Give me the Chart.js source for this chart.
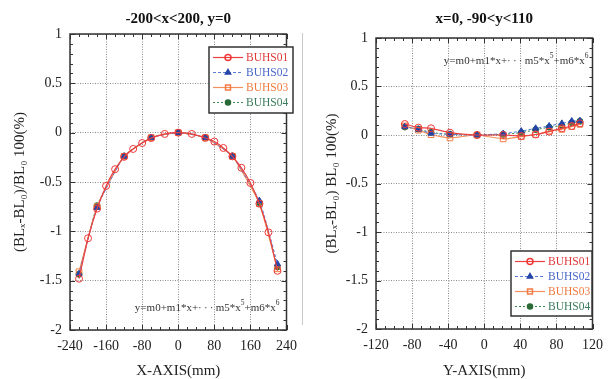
<!DOCTYPE html>
<html>
<head>
<meta charset="utf-8">
<script src="https://cdn.jsdelivr.net/npm/chart.js@4/dist/chart.umd.min.js"></script>
<style>
  body { margin: 0; background: #fff; }
  #wrap { position: relative; width: 611px; height: 379px; }
  #left { position: absolute; left: 0; top: 0; }
  #right { position: absolute; left: 305px; top: 0; }
  #sep { position: absolute; left: 302px; top: 33px; width: 1px; height: 292px; background: #c8c8c8; }
</style>
</head>
<body>
<div id="wrap">
  <canvas id="left" width="305" height="379"></canvas>
  <div id="sep"></div>
  <canvas id="right" width="306" height="379"></canvas>
</div>
<script>
// left chart: -200<x<200, y=0
const leftX01 = [-220, -200, -180, -160, -140, -120, -100, -80, -60, -30, 0, 30, 60, 80, 100, 120, 140, 160, 180, 200, 220];
const left01 = [-1.48, -1.07, -0.77, -0.54, -0.37, -0.245, -0.165, -0.105, -0.055, -0.013, 0, -0.013, -0.054, -0.09, -0.155, -0.24, -0.356, -0.51, -0.72, -1.01, -1.40];
const leftX = [-220, -180, -120, -60, 0, 60, 120, 180, 220];
const left02 = [-1.43, -0.76, -0.24, -0.05, 0, -0.05, -0.24, -0.69, -1.33];
const left03 = [-1.41, -0.75, -0.24, -0.05, 0, -0.05, -0.24, -0.72, -1.38];
const left04 = [-1.435, -0.74, -0.236, -0.05, 0, -0.05, -0.236, -0.71, -1.36];

// right chart: x=0, -90<y<110
const rightX = [-88, -73, -59, -38, -8, 21, 41, 57, 72, 86, 97, 106];
const right01 = [0.113, 0.076, 0.069, 0.024, 0, 0, -0.01, 0.005, 0.035, 0.069, 0.093, 0.12];
const right02 = [0.086, 0.058, 0.017, 0.007, 0, 0.014, 0.04, 0.069, 0.093, 0.12, 0.144, 0.148];
const right03 = [0.093, 0.05, 0.003, -0.03, 0, -0.04, -0.017, 0.005, 0.04, 0.058, 0.086, 0.11];
const right04 = [0.082, 0.062, 0.027, 0.007, 0, 0.007, 0.024, 0.055, 0.08, 0.096, 0.127, 0.141];

const seriesNames = ['BUHS01', 'BUHS02', 'BUHS03', 'BUHS04'];
const leftXTicks = [-240, 240, 80];   // min, max, step
const rightXTicks = [-120, 120, 40];
const yTicks = [-2, 1, 0.5];

const FONT = "'Liberation Serif', 'Times New Roman', serif";
const textColors = ['#e03a3a', '#4a68c8', '#f07a40', '#3a7c5c'];

const styles = [
  { borderColor: '#ec4040', borderWidth: 1.2, pointStyle: 'circle', pointRadius: 3.5, pointBorderWidth: 1,
    pointBorderColor: '#f03838', pointBackgroundColor: 'rgba(255,255,255,0)' },
  { borderColor: '#5a7ad8', borderWidth: 1, borderDash: [3, 2], pointStyle: 'triangle', pointRadius: 3.5,
    pointBorderWidth: 1, pointBorderColor: '#2444a8', pointBackgroundColor: '#2444a8' },
  { borderColor: '#f4905c', borderWidth: 1.2, pointStyle: 'rect', pointRadius: 4, pointBorderWidth: 1,
    pointBorderColor: '#f27a44', pointBackgroundColor: 'rgba(255,255,255,0)' },
  { borderColor: '#3c8a50', borderWidth: 1, borderDash: [2, 2], pointStyle: 'circle', pointRadius: 3,
    pointBorderWidth: 1, pointBorderColor: '#2a6a36', pointBackgroundColor: '#2a6a36' }
];

function makeSeries(xs, ysList) {
  // first dataset ends up drawn on top
  return ysList.map((ys, i) => Object.assign({
    label: seriesNames[i],
    data: xs[i].map((x, j) => ({ x: x, y: ys[j] })),
    showLine: true,
    tension: 0.15
  }, styles[i]));
}

function drawEquation(ctx, xEnd, yMid) {
  const parts = [['y=m0+m1*x+\u00b7\u2009\u00b7\u2009\u00b7\u2009m5*x', false], ['5', true], ['+m6*x', false], ['6', true]];
  const fontN = '11px ' + FONT, fontS = '7.5px ' + FONT;
  let w = 0;
  parts.forEach(p => { ctx.font = p[1] ? fontS : fontN; w += ctx.measureText(p[0]).width; });
  let x = xEnd - w;
  ctx.fillStyle = '#333';
  ctx.textAlign = 'left';
  ctx.textBaseline = 'middle';
  parts.forEach(p => {
    ctx.font = p[1] ? fontS : fontN;
    ctx.fillText(p[0], x, p[1] ? yMid - 5 : yMid);
    x += ctx.measureText(p[0]).width;
  });
}

const decoPlugin = {
  id: 'deco',
  afterDatasetsDraw(chart, args, opts) {
    const ctx = chart.ctx;
    const { left, right, top, bottom } = chart.chartArea;
    const xs = chart.scales.x, ys = chart.scales.y;
    ctx.save();

    // inward ticks on all four sides
    ctx.strokeStyle = '#333';
    ctx.lineWidth = 1;
    const nx = Math.round((xs.max - xs.min) / opts.xMinor);
    for (let i = 0; i <= nx; i++) {
      const v = xs.min + i * opts.xMinor;
      const px = Math.round(xs.getPixelForValue(v)) + 0.5;
      const len = (i % opts.xPer === 0) ? 5 : 3;
      ctx.beginPath();
      ctx.moveTo(px, bottom); ctx.lineTo(px, bottom - len);
      ctx.moveTo(px, top); ctx.lineTo(px, top + len);
      ctx.stroke();
    }
    const ny = Math.round((ys.max - ys.min) / 0.1);
    for (let i = 0; i <= ny; i++) {
      const v = ys.min + i * 0.1;
      const py = Math.round(ys.getPixelForValue(v)) + 0.5;
      const len = (i % 5 === 0) ? 5 : 3;
      ctx.beginPath();
      ctx.moveTo(left, py); ctx.lineTo(left + len, py);
      ctx.moveTo(right, py); ctx.lineTo(right - len, py);
      ctx.stroke();
    }

    // frame
    ctx.lineWidth = 1.5;
    ctx.strokeStyle = '#333';
    ctx.strokeRect(left, top, right - left, bottom - top);

    // title
    ctx.fillStyle = '#111';
    ctx.font = 'bold 15px ' + FONT;
    ctx.textAlign = 'center';
    ctx.textBaseline = 'middle';
    ctx.fillText(opts.title, (left + right) / 2, 19);

    // fit equation
    drawEquation(ctx, right + opts.eqDx, opts.eqY);

    // legend box
    const lg = opts.legend;
    ctx.fillStyle = '#fff';
    ctx.fillRect(lg.x, lg.y, lg.w, lg.h);
    ctx.lineWidth = 1.5;
    ctx.strokeStyle = '#333';
    ctx.strokeRect(lg.x, lg.y, lg.w, lg.h);
    chart.data.datasets.forEach((ds, i) => {
      const ry = lg.y + 10.5 + i * 15;
      ctx.save();
      ctx.strokeStyle = ds.borderColor;
      ctx.lineWidth = ds.borderWidth;
      ctx.setLineDash(ds.borderDash || []);
      ctx.beginPath();
      ctx.moveTo(lg.x + 4, ry); ctx.lineTo(lg.x + 34, ry);
      ctx.stroke();
      ctx.restore();
      ctx.save();
      ctx.strokeStyle = ds.pointBorderColor;
      ctx.fillStyle = ds.pointBackgroundColor;
      Chart.helpers.drawPoint(ctx, { pointStyle: ds.pointStyle, radius: ds.pointRadius - 0.5, borderWidth: 1, rotation: 0 }, lg.x + 19, ry);
      ctx.restore();
      ctx.fillStyle = textColors[i];
      ctx.font = '11.5px ' + FONT;
      ctx.textAlign = 'left';
      ctx.textBaseline = 'middle';
      ctx.fillText(ds.label, lg.x + 37, ry + 0.5);
    });
    ctx.restore();
  }
};

function buildChart(canvasId, xr, datasets, pad, yWidth, titleText, yTitlePad, deco) {
  return new Chart(document.getElementById(canvasId), {
    type: 'scatter',
    data: { datasets: datasets },
    plugins: [decoPlugin],
    options: {
      responsive: false,
      animation: false,
      layout: { padding: pad },
      plugins: {
        legend: { display: false },
        tooltip: { enabled: false },
        deco: deco
      },
      scales: {
        x: {
          type: 'linear', min: xr[0], max: xr[1],
          afterFit: s => { s.height = deco.xHeight; },
          ticks: { stepSize: xr[2], color: '#222', font: { family: FONT, size: 14 }, padding: 8, maxRotation: 0,
                   callback: v => String(v) },
          grid: { color: '#8a8a8a', lineWidth: 1, drawTicks: false },
          border: { display: false, dash: [1, 1.5] },
          title: { display: true, text: deco.xTitle, color: '#222', font: { family: FONT, size: 15, lineHeight: 1 }, padding: { top: 0, bottom: 0 } }
        },
        y: {
          type: 'linear', min: yTicks[0], max: yTicks[1],
          afterFit: s => { s.width = yWidth; },
          ticks: { stepSize: yTicks[2], color: '#222', font: { family: FONT, size: 14 }, padding: 8,
                   callback: v => String(v) },
          grid: { color: '#8a8a8a', lineWidth: 1, drawTicks: false },
          border: { display: false, dash: [1, 1.5] },
          title: { display: true, text: titleText, color: '#222', font: { family: FONT, size: 15, lineHeight: 1.2 }, padding: { top: yTitlePad, bottom: 0 } }
        }
      }
    }
  });
}

buildChart('left', leftXTicks,
  makeSeries([leftX01, leftX, leftX, leftX], [left01, left02, left03, left04]),
  { top: 34, right: 6, left: 0, bottom: 0 }, 70,
  '(BL\u2093-BL\u2080)/BL\u2080 100(%)', 11,
  { title: '-200<x<200, y=0', xTitle: 'X-AXIS(mm)', xHeight: 49, xMinor: 20, xPer: 4, eqDx: -7, eqY: 308,
    legend: { x: 209, y: 47, w: 84, h: 66 } });

buildChart('right', rightXTicks,
  makeSeries([rightX, rightX, rightX, rightX], [right01, right02, right03, right04]),
  { top: 38, right: 11, left: 0, bottom: 0 }, 71,
  '(BL\u2093-BL\u2080) BL\u2080 100(%)', 18,
  { title: 'x=0, -90<y<110', xTitle: 'Y-AXIS(mm)', xHeight: 50, xMinor: 10, xPer: 4, eqDx: -4, eqY: 61,
    legend: { x: 206, y: 251, w: 81, h: 65 } });
</script>
</body>
</html>
